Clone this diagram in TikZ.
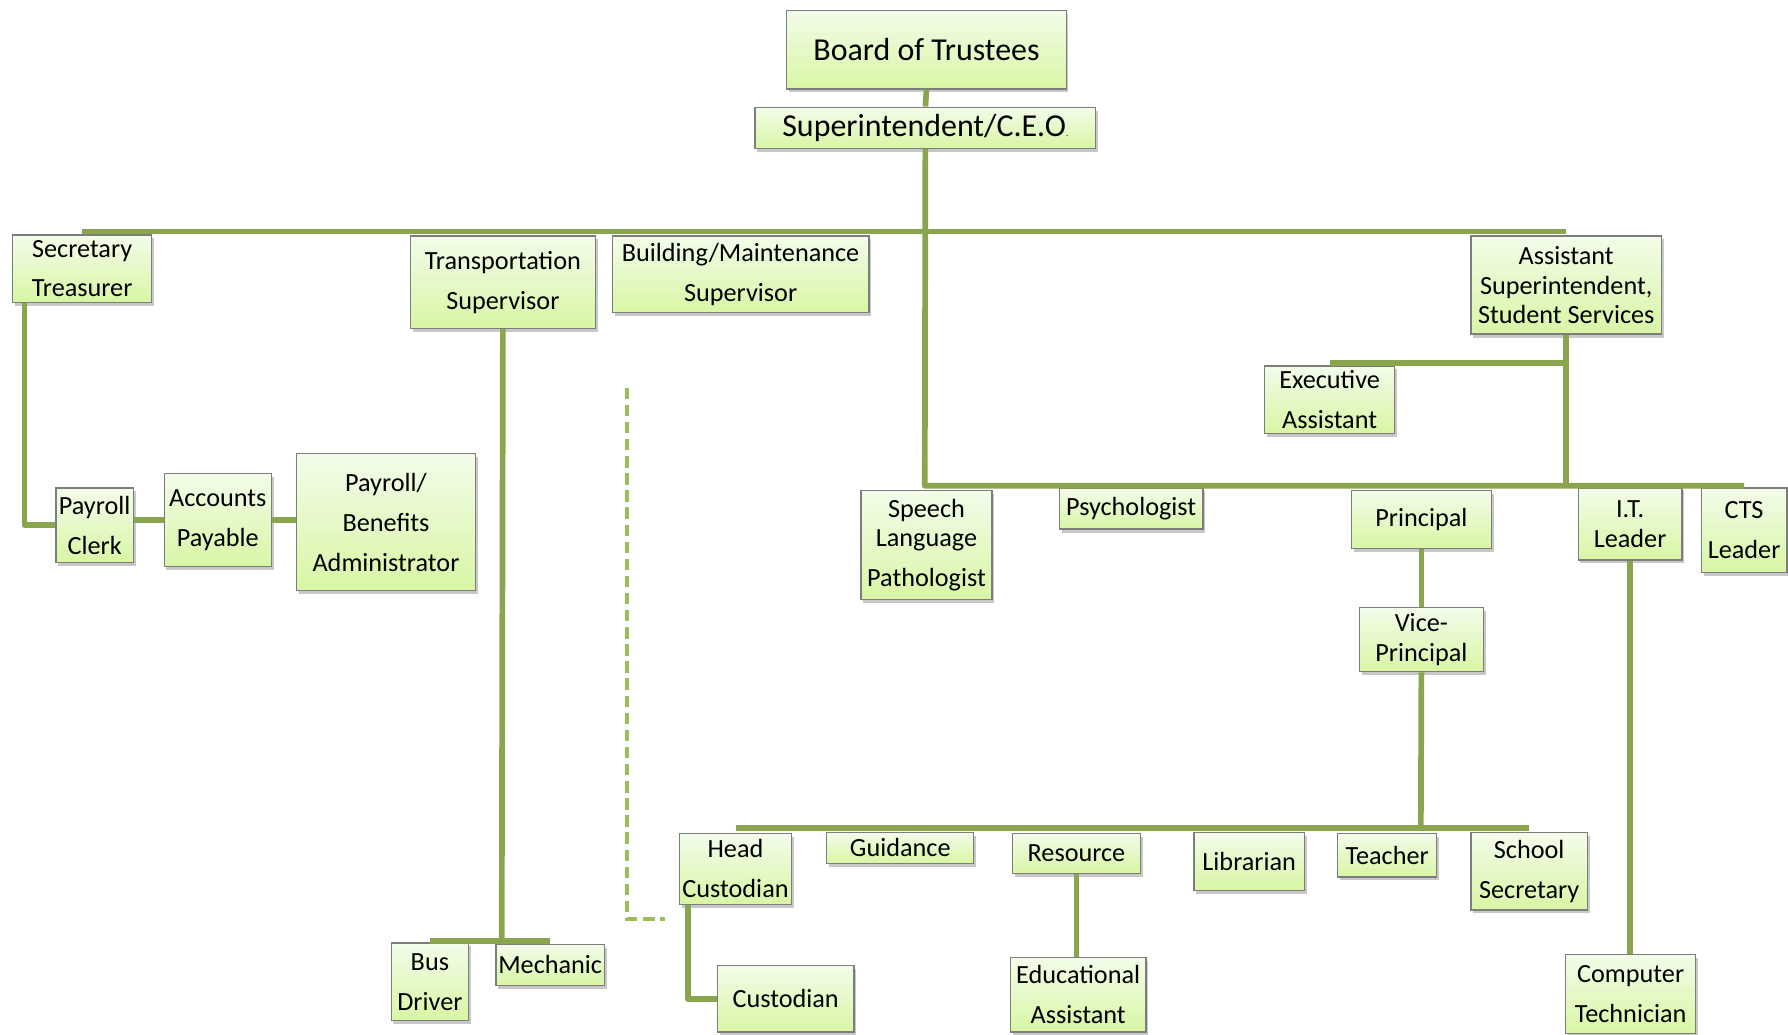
\documentclass[tikz,border=0pt]{standalone}
\usepackage{fontspec}
\setmainfont{Carlito}
\usetikzlibrary{shadows}
\definecolor{linegreen}{RGB}{137,165,78}
\definecolor{dashgreen}{RGB}{155,190,90}
\definecolor{boxtop}{RGB}{243,252,234}
\definecolor{boxbot}{RGB}{216,246,164}
\definecolor{boxedge}{RGB}{125,125,125}
\tikzset{
  orgbox/.style={draw=boxedge, line width=1.1pt, top color=boxtop, bottom color=boxbot,
    inner sep=0pt, align=center, font=\fontsize{23}{26}\selectfont,
    drop shadow={shadow xshift=2pt, shadow yshift=-3pt, opacity=0.3, fill=black!70}},
  widegap/.style={font=\fontsize{23}{35}\selectfont},
  bigtext/.style={font=\fontsize{28}{32}\selectfont},
  conn/.style={draw=linegreen, line width=5pt, line join=round},
  dashconn/.style={draw=dashgreen, line width=4pt, dash pattern=on 10pt off 5pt}
}
\begin{document}
\begin{tikzpicture}[x=1pt,y=-1pt]
\useasboundingbox[fill=white] (0,0) rectangle (1568,907);

% top
\node[orgbox,bigtext,minimum width=245pt,minimum height=69pt] (board) at (812.5,43.5) {Board of Trustees};
\node[orgbox,bigtext,minimum width=299pt,minimum height=36pt] (super) at (811.5,112) {Superintendent/C.E.O{\fontsize{8}{8}\selectfont.}};

% second row
\node[orgbox,widegap,minimum width=122pt,minimum height=59pt] (sec) at (72,235.5) {Secretary\\Treasurer};
\node[orgbox,widegap,minimum width=162pt,minimum height=81pt] (trans) at (441,247.5) {Transportation\\Supervisor};
\node[orgbox,widegap,minimum width=225pt,minimum height=67pt] (bldg) at (649.5,240.5) {Building/Maintenance\\Supervisor};
\node[orgbox,minimum width=167pt,minimum height=86pt] (asst) at (1373.5,250) {Assistant\\Superintendent,\\Student Services};
\node[orgbox,widegap,minimum width=114pt,minimum height=59pt] (exec) at (1166,350.5) {Executive\\Assistant};

% finance
\node[orgbox,widegap,minimum width=68pt,minimum height=65pt] (pclerk) at (83,460.5) {Payroll\\Clerk};
\node[orgbox,widegap,minimum width=94pt,minimum height=82pt] (ap) at (191,456) {Accounts\\Payable};
\node[orgbox,widegap,minimum width=157pt,minimum height=120pt] (pba) at (338.5,458) {Payroll/\\Benefits\\Administrator};

% student services row
\node[orgbox,minimum width=115pt,minimum height=96pt] (speech) at (812.5,478) {Speech\\Language\\[9pt]Pathologist};
\node[orgbox,minimum width=126pt,minimum height=36pt] (psych) at (992,446) {Psychologist};
\node[orgbox,minimum width=123pt,minimum height=51pt] (prin) at (1246.5,455.5) {Principal};
\node[orgbox,minimum width=91pt,minimum height=63pt] (it) at (1429.5,459.5) {I.T.\\Leader};
\node[orgbox,widegap,minimum width=75pt,minimum height=74pt] (cts) at (1529.5,465) {CTS\\Leader};
\node[orgbox,minimum width=109pt,minimum height=56pt] (vp) at (1246.5,561) {Vice-\\Principal};

% school row
\node[orgbox,widegap,minimum width=98pt,minimum height=62pt] (hc) at (645,762) {Head\\Custodian};
\node[orgbox,minimum width=129pt,minimum height=27pt] (guid) at (789.5,743.5) {Guidance};
\node[orgbox,minimum width=112pt,minimum height=35pt] (res) at (944,748.5) {Resource};
\node[orgbox,minimum width=97pt,minimum height=51pt] (lib) at (1095.5,755.5) {Librarian};
\node[orgbox,minimum width=87pt,minimum height=38pt] (teach) at (1216.5,750) {Teacher};
\node[orgbox,widegap,minimum width=102pt,minimum height=68pt] (ss) at (1341,764) {School\\Secretary};

% bottom
\node[orgbox,widegap,minimum width=119pt,minimum height=65pt] (ea) at (945.5,872.5) {Educational\\Assistant};
\node[orgbox,widegap,minimum width=114pt,minimum height=69pt] (ct) at (1430,871.5) {Computer\\Technician};
\node[orgbox,minimum width=120pt,minimum height=58pt] (cust) at (689,876) {Custodian};
\node[orgbox,widegap,minimum width=68pt,minimum height=68pt] (bus) at (377,861) {Bus\\Driver};
\node[orgbox,minimum width=95pt,minimum height=36pt] (mech) at (482.5,846) {Mechanic};

% coordinates for junctions
\coordinate (topbar) at (811,203);
\coordinate (midbar) at (811,426);
\coordinate (tj) at (440,825);
\coordinate (schoolbar) at (1246,726);
\coordinate (dashtop) at (550,340);
\coordinate (dashend) at (583,806);

% connectors
\draw[conn] (board.south) -- (super.north);
\draw[conn] (super.south) -- (midbar) -- (midbar -| cts.north);
\draw[conn] (sec.north |- topbar) -- (topbar -| asst.north);
\draw[conn] ([xshift=11pt]sec.south west) |- (pclerk.west);
\draw[conn] (ap.west -| pclerk.east) -- (ap.west);
\draw[conn] (ap.east) -- (ap.east -| pba.west);
\draw[conn] (trans.south) -- (tj);
\draw[conn] (bus.north |- tj) -- (mech.north |- tj);
\draw[conn] (asst.south) -- (asst.south |- midbar);
\draw[conn] ([yshift=2pt]exec.north) -- ([yshift=2pt]exec.north -| asst.south);
\draw[conn] (prin.south) -- (vp.north);
\draw[conn] (vp.south) -- (schoolbar);
\draw[conn] (hc.north |- schoolbar) -- (ss.north |- schoolbar);
\draw[conn] ([xshift=8pt]hc.south west) |- (cust.west);
\draw[conn] (res.south) -- (res.south |- ea.north);
\draw[conn] (it.south) -- (it.south |- ct.north);
\draw[dashconn] (dashtop) |- (dashend);
\end{tikzpicture}
\end{document}
